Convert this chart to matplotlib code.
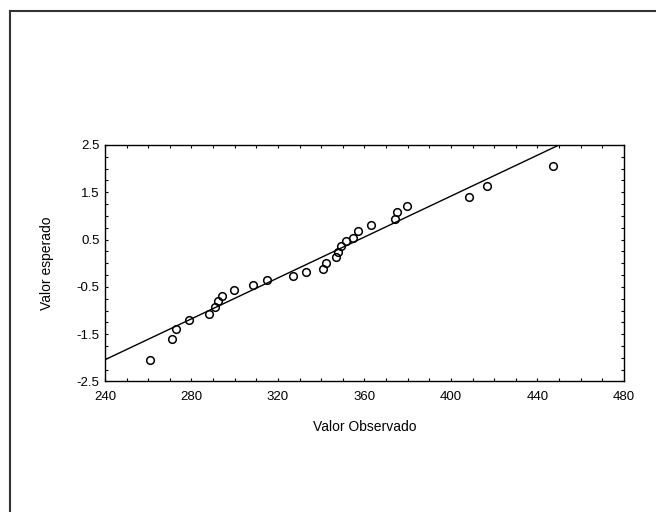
import numpy as np
import matplotlib
matplotlib.use('Agg')
import matplotlib.pyplot as plt
from matplotlib.lines import Line2D
from matplotlib.ticker import MultipleLocator

# observed values and expected normal values
observed = [260.9, 271.2, 272.7, 278.9, 288.0, 290.7, 292.3, 294.2, 299.8,
            308.7, 315.1, 326.9, 333.1, 340.8, 342.2, 347.0, 347.8, 349.2,
            351.3, 354.8, 356.9, 363.1, 374.1, 374.9, 379.9, 408.4, 416.7,
            447.3]
expected = [-2.04, -1.61, -1.39, -1.19, -1.07, -0.93, -0.80, -0.70, -0.57,
            -0.45, -0.35, -0.26, -0.19, -0.12, 0.01, 0.13, 0.24, 0.36,
            0.46, 0.53, 0.69, 0.81, 0.94, 1.08, 1.21, 1.40, 1.63, 2.05]

# reference line
line_x = [240, 450]
line_y = [-2.04, 2.5]

xticks = [240, 280, 320, 360, 400, 440, 480]
yticks = [-2.5, -1.5, -0.5, 0.5, 1.5, 2.5]

plt.rcParams['font.family'] = ['Liberation Sans', 'DejaVu Sans']

fig = plt.figure(figsize=(6.56, 5.12), dpi=100)
ax = fig.add_axes([0.160, 0.2549, 0.791, 0.4619])

ax.plot(line_x, line_y, color='black', linewidth=1.0)
ax.plot(observed, expected, 'o', markerfacecolor='none', markeredgecolor='black',
        markersize=5.5, markeredgewidth=1.1)

ax.set_xlim(240, 480)
ax.set_ylim(-2.5, 2.5)
ax.set_xticks(xticks)
ax.set_yticks(yticks)
ax.set_xticklabels([str(v) for v in xticks])
ax.set_yticklabels([str(v) for v in yticks])
ax.xaxis.set_minor_locator(MultipleLocator(10))
ax.yaxis.set_minor_locator(MultipleLocator(0.25))
ax.tick_params(which='both', direction='in', length=2, width=0.8,
               top=True, right=True, labelsize=9.5)
ax.tick_params(axis='x', pad=7)
ax.tick_params(axis='y', pad=4)
for s in ax.spines.values():
    s.set_linewidth(1.0)

ax.set_xlabel('Valor Observado', fontsize=10, labelpad=12)
ax.set_ylabel('Valor esperado', fontsize=10, labelpad=16)

# outer frame (top and left edges)
fig.add_artist(Line2D([10 / 656, 10 / 656], [0, 1 - 11 / 512],
                      transform=fig.transFigure, color='#333333', linewidth=1.5))
fig.add_artist(Line2D([10 / 656, 1], [1 - 11 / 512, 1 - 11 / 512],
                      transform=fig.transFigure, color='#333333', linewidth=1.5))

fig.savefig('out.png', dpi=100)
